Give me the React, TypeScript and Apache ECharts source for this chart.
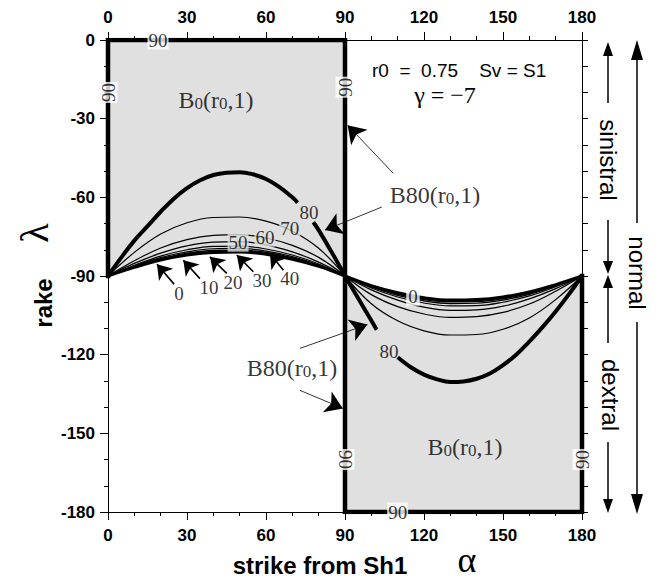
import React, { useEffect, useRef } from "react";
import * as echarts from "echarts";

// ---- data ----
const xTicks = [0, 30, 60, 90, 120, 150, 180];
const yTicks = [0, -30, -60, -90, -120, -150, -180];

const alphaUp = [0, 10, 20, 30, 40, 50, 60, 70, 80, 90];
const rakeUp0 = [-90, -86.7, -83.9, -82, -81, -80.8, -81.7, -83.6, -86.3, -90];
const rakeUp10 = [-90, -86.5, -83.7, -81.6, -80.6, -80.4, -81.4, -83.3, -86.2, -90];
const rakeUp20 = [-90, -86.4, -83.4, -81.3, -80.2, -80.1, -81, -83, -86, -90];
const rakeUp30 = [-90, -86.2, -83, -80.8, -79.6, -79.5, -80.5, -82.6, -85.8, -90];
const rakeUp40 = [-90, -85.9, -82.4, -80, -78.7, -78.6, -79.7, -82, -85.4, -90];
const rakeUp50 = [-90, -85.2, -81.3, -78.5, -77.1, -76.9, -78.1, -80.8, -84.7, -90];
const rakeUp60 = [-90, -84.2, -79.3, -76.1, -74.5, -74.2, -75.5, -78.3, -82.9, -90];
const rakeUp70 = [-90, -81, -74, -69.7, -67.7, -67.5, -69.1, -72.9, -79.4, -90];
const alphaUp80 = [0, 5, 10, 15, 20, 25, 30, 35, 40, 45, 50, 55, 60, 65, 70, 72, 75, 78, 80, 85, 90];
const rakeUp80 = [-90, -83, -76.5, -71, -65.5, -60.5, -56.5, -53.5, -51.5, -50.6, -50.4, -51.2, -53, -56, -60, -62, null, -69.5, -72.5, -81, -90];

const alphaLow = [90, 100, 110, 120, 130, 140, 150, 160, 170, 180];
const rakeLow0 = [-90, -93.7, -96.4, -98.3, -99.2, -99, -98, -96.1, -93.3, -90];
const rakeLow10 = [-90, -93.8, -96.7, -98.6, -99.6, -99.4, -98.4, -96.3, -93.5, -90];
const rakeLow20 = [-90, -94, -97, -99, -99.9, -99.8, -98.7, -96.6, -93.6, -90];
const rakeLow30 = [-90, -94.2, -97.4, -99.5, -100.5, -100.4, -99.2, -97, -93.8, -90];
const rakeLow40 = [-90, -94.6, -98, -100.3, -101.4, -101.3, -100, -97.6, -94.1, -90];
const rakeLow50 = [-90, -95.3, -99.2, -101.9, -103.1, -102.9, -101.5, -98.7, -94.8, -90];
const rakeLow60 = [-90, -97.1, -101.7, -104.5, -105.8, -105.5, -103.9, -100.7, -95.8, -90];
const rakeLow70 = [-90, -100.6, -107.1, -110.9, -112.5, -112.3, -110.3, -106, -99, -90];
const alphaLow80 = [90, 95, 100, 102, 106, 110, 115, 120, 125, 130, 135, 140, 145, 150, 155, 160, 165, 170, 175, 180];
const rakeLow80 = [-90, -98.5, -107, -110.5, null, -121, -124.8, -127.6, -129.4, -130.4, -130.2, -129.2, -127.2, -124, -120, -115, -109.5, -103.5, -97, -90];

// boundary of the B0 regions
const boundAlpha = [0, 0, 90, 90, 180, 180];
const boundRake = [-90, 0, 0, -180, -180, -90];

// labels on curves
const upLabelText = ["0", "10", "20", "30", "40", "50", "60", "70", "80"];
const upLabelAlpha = [27, 38.4, 47.5, 58.5, 69, 49.4, 59.6, 69, 76.3];
const upLabelRake = [-96.6, -94.3, -92.4, -91.6, -90.8, -77.1, -75.2, -71.8, -65.6];
const lowLabelText = ["0", "80"];
const lowLabelAlpha = [115.8, 106.7];
const lowLabelRake = [-97.7, -118.9];

// "90" marks on the boundary
const b90Alpha = [19, 0, 90, 90, 180, 110];
const b90Rake = [0, -20, -18, -160, -160, -180];
const b90Rot = [0, 90, 90, -90, 90, 0];

// arrows from the small labels to the curves
const arrowFrom = [[25.1, -93.1], [34.9, -91], [45.1, -89], [55.2, -88.4], [66.6, -87.8]];
const arrowTo = [[18.6, -85.5], [28.6, -84], [38.7, -82.7], [48.9, -82], [61.5, -81.4]];
// arrows from the B80 labels
const bArrowFrom = [[108.3, -50.8], [104, -63.7], [72.9, -117.6], [72.9, -133.6]];
const bArrowTo = [[91, -32.5], [82.4, -72.5], [98.5, -108.5], [89.2, -140.5]];

const pts = (xs: number[], ys: (number | null)[]) =>
  xs.map((x, i) => [x, ys[i] == null ? "-" : ys[i]]);

const BLACK = "#000";
const SHADE = "#e0e0e0";
const SANS = "Liberation Sans";
const SERIF = "Liberation Serif";

export default function App() {
  const ref = useRef<HTMLDivElement>(null);
  useEffect(() => {
    if (!ref.current) return;
    const chart = echarts.init(ref.current, null, { renderer: "svg" });

    const axisCommon = {
      splitLine: { show: false },
      axisLine: { show: true, onZero: false, lineStyle: { color: BLACK, width: 1 } },
      axisTick: { show: true, length: 8, lineStyle: { color: BLACK, width: 1 } },
      minorTick: { show: true, splitNumber: 3, length: 4, lineStyle: { color: BLACK, width: 1 } },
    };
    const labelCommon = { color: BLACK, fontFamily: SANS, fontWeight: "bold", fontSize: 17 };

    const thinCurve = (data: any[]) => ({
      type: "line",
      data,
      smooth: 0.4,
      symbol: "none",
      z: 3,
      lineStyle: { color: BLACK, width: 1.2 },
      xAxisIndex: 0,
      yAxisIndex: 0,
    });

    const richB = {
      b: { fontFamily: SERIF, fontSize: 24, color: BLACK },
      s: { fontFamily: SERIF, fontSize: 17, color: BLACK, verticalAlign: "bottom" },
    };

    const center = { align: "center", verticalAlign: "middle", textAlign: "center", textVerticalAlign: "middle" };

    const option: any = {
      animation: false,
      grid: { left: 108, top: 40, width: 474, height: 472, containLabel: false },
      xAxis: [
        {
          type: "value", min: 0, max: 180, interval: 30, position: "bottom",
          ...axisCommon,
          axisLabel: { ...labelCommon, margin: 15, formatter: (v: number) => (xTicks.includes(v) ? String(v) : "") },
        },
        {
          type: "value", min: 0, max: 180, interval: 30, position: "top",
          ...axisCommon,
          axisLabel: { ...labelCommon, margin: 14, formatter: (v: number) => (xTicks.includes(v) ? String(v) : "") },
        },
      ],
      yAxis: [
        {
          type: "value", min: -180, max: 0, interval: 30, position: "left",
          ...axisCommon,
          axisLabel: { ...labelCommon, margin: 13, formatter: (v: number) => (yTicks.includes(v) ? String(v) : "") },
        },
        {
          type: "value", min: -180, max: 0, interval: 30, position: "right",
          ...axisCommon,
          axisTick: { show: true, length: 6, lineStyle: { color: BLACK } },
          minorTick: { show: true, splitNumber: 3, length: 6, lineStyle: { color: BLACK } },
          axisLabel: { show: false },
        },
      ],
      series: [
        {
          type: "line", data: pts(alphaUp, rakeUp0), smooth: 0.4, symbol: "none", z: 1,
          lineStyle: { width: 0 }, areaStyle: { color: SHADE, opacity: 1, origin: "end" },
        },
        {
          type: "line", data: pts(alphaLow, rakeLow0), smooth: 0.4, symbol: "none", z: 1,
          lineStyle: { width: 0 }, areaStyle: { color: SHADE, opacity: 1, origin: "start" },
        },
        thinCurve(pts(alphaUp, rakeUp10)),
        thinCurve(pts(alphaUp, rakeUp20)),
        thinCurve(pts(alphaUp, rakeUp30)),
        thinCurve(pts(alphaUp, rakeUp40)),
        thinCurve(pts(alphaUp, rakeUp50)),
        thinCurve(pts(alphaUp, rakeUp60)),
        thinCurve(pts(alphaUp, rakeUp70)),
        thinCurve(pts(alphaLow, rakeLow10)),
        thinCurve(pts(alphaLow, rakeLow20)),
        thinCurve(pts(alphaLow, rakeLow30)),
        thinCurve(pts(alphaLow, rakeLow40)),
        thinCurve(pts(alphaLow, rakeLow50)),
        thinCurve(pts(alphaLow, rakeLow60)),
        thinCurve(pts(alphaLow, rakeLow70)),
        { ...thinCurve(pts(alphaUp, rakeUp0)), lineStyle: { color: BLACK, width: 3 } },
        { ...thinCurve(pts(alphaLow, rakeLow0)), lineStyle: { color: BLACK, width: 3 } },
        { ...thinCurve(pts(alphaUp80, rakeUp80)), connectNulls: false, lineStyle: { color: BLACK, width: 4 } },
        { ...thinCurve(pts(alphaLow80, rakeLow80)), connectNulls: false, lineStyle: { color: BLACK, width: 4 } },
        {
          type: "line", data: pts(boundAlpha, boundRake), symbol: "none", z: 4,
          lineStyle: { color: BLACK, width: 4.5, join: "miter", cap: "square" },
        },
        // "90" marks
        {
          type: "scatter", symbolSize: 1, z: 6, itemStyle: { color: "rgba(0,0,0,0)" },
          label: {
            show: true, position: "inside", formatter: "90", fontFamily: SERIF, fontSize: 19,
            color: BLACK, backgroundColor: "#fff", padding: [0, 1],
          },
          data: b90Alpha.map((a, i) => ({ value: [a, b90Rake[i]], label: { rotate: b90Rot[i] } })),
        },
        // curve labels (upper)
        {
          type: "scatter", symbolSize: 1, z: 6, itemStyle: { color: "rgba(0,0,0,0)" },
          label: { show: true, position: "inside", fontFamily: SERIF, fontSize: 19, color: BLACK },
          data: upLabelText.map((t, i) => ({
            value: [upLabelAlpha[i], upLabelRake[i]],
            label: {
              formatter: t,
              backgroundColor: i >= 5 && i < 8 ? SHADE : "transparent",
              padding: [0, 1],
            },
          })),
        },
        // curve labels (lower)
        {
          type: "scatter", symbolSize: 1, z: 6, itemStyle: { color: "rgba(0,0,0,0)" },
          label: { show: true, position: "inside", fontFamily: SERIF, fontSize: 19, color: BLACK },
          data: lowLabelText.map((t, i) => ({
            value: [lowLabelAlpha[i], lowLabelRake[i]],
            label: { formatter: t, backgroundColor: i === 0 ? "#fff" : "transparent", padding: [0, 2] },
          })),
        },
        // region labels
        {
          type: "scatter", symbolSize: 1, z: 6, itemStyle: { color: "rgba(0,0,0,0)" },
          label: { show: true, position: "inside", rich: richB },
          data: [
            { value: [41, -23], label: { formatter: "{b|B}{s|0}{b|(r}{s|0}{b|,1)}" } },
            { value: [135.6, -155.3], label: { formatter: "{b|B}{s|0}{b|(r}{s|0}{b|,1)}" } },
            { value: [124.2, -59.2], label: { formatter: "{b|B80(r}{s|0}{b|,1)}" } },
            { value: [69.9, -125.2], label: { formatter: "{b|B80(r}{s|0}{b|,1)}" } },
          ],
        },
        // arrows to curves
        {
          type: "lines", coordinateSystem: "cartesian2d", z: 5,
          symbol: ["none", "arrow"], symbolSize: 14,
          lineStyle: { color: BLACK, width: 1.6, opacity: 1 },
          itemStyle: { color: BLACK },
          data: arrowFrom.map((f, i) => ({ coords: [f, arrowTo[i]] })),
        },
        {
          type: "lines", coordinateSystem: "cartesian2d", z: 5,
          symbol: ["none", "arrow"], symbolSize: 17,
          lineStyle: { color: BLACK, width: 0.8, opacity: 1 },
          itemStyle: { color: BLACK },
          data: bArrowFrom.map((f, i) => ({ coords: [f, bArrowTo[i]] })),
        },
      ],
      graphic: [
        { type: "text", x: 372, y: 70, style: { text: "r0  =  0.75    Sv = S1", font: `19px '${SANS}'`, fill: BLACK, align: "left", verticalAlign: "middle", textAlign: "left", textVerticalAlign: "middle" } },
        { type: "text", x: 445, y: 95, style: { text: "γ = −7", font: `24px '${SERIF}'`, fill: BLACK, ...center } },
        { type: "text", x: 43, y: 303, rotation: Math.PI / 2, style: { text: "rake", font: `bold 24px '${SANS}'`, fill: BLACK, ...center } },
        { type: "text", x: 34, y: 233, rotation: Math.PI / 2, style: { text: "λ", font: `40px '${SERIF}'`, fill: BLACK, ...center } },
        { type: "text", x: 320, y: 565, style: { text: "strike from Sh1", font: `bold 24px '${SANS}'`, fill: BLACK, ...center } },
        { type: "text", x: 467, y: 560, style: { text: "α", font: `36px '${SERIF}'`, fill: BLACK, ...center } },
        // right side annotations
        { type: "text", x: 608, y: 160, rotation: -Math.PI / 2, style: { text: "sinistral", font: `24px '${SANS}'`, fill: BLACK, ...center } },
        { type: "text", x: 637, y: 273, rotation: -Math.PI / 2, style: { text: "normal", font: `24px '${SANS}'`, fill: BLACK, ...center } },
        { type: "text", x: 610, y: 395, rotation: -Math.PI / 2, style: { text: "dextral", font: `24px '${SANS}'`, fill: BLACK, ...center } },
        { type: "line", shape: { x1: 608, y1: 103, x2: 608, y2: 52 }, style: { stroke: BLACK, lineWidth: 1.5 } },
        { type: "polygon", shape: { points: [[608, 42], [603, 56], [613, 56]] }, style: { fill: BLACK } },
        { type: "line", shape: { x1: 608, y1: 220, x2: 608, y2: 264 }, style: { stroke: BLACK, lineWidth: 1.5 } },
        { type: "polygon", shape: { points: [[608, 274], [603, 261], [613, 261]] }, style: { fill: BLACK } },
        { type: "line", shape: { x1: 608, y1: 343, x2: 608, y2: 285 }, style: { stroke: BLACK, lineWidth: 1.5 } },
        { type: "polygon", shape: { points: [[608, 275], [603, 288], [613, 288]] }, style: { fill: BLACK } },
        { type: "line", shape: { x1: 608, y1: 442, x2: 608, y2: 503 }, style: { stroke: BLACK, lineWidth: 1.5 } },
        { type: "polygon", shape: { points: [[608, 513], [603, 499], [613, 499]] }, style: { fill: BLACK } },
        { type: "line", shape: { x1: 637, y1: 223, x2: 637, y2: 54 }, style: { stroke: BLACK, lineWidth: 1.5 } },
        { type: "polygon", shape: { points: [[637, 40], [631, 60], [643, 60]] }, style: { fill: BLACK } },
        { type: "line", shape: { x1: 637, y1: 322, x2: 637, y2: 500 }, style: { stroke: BLACK, lineWidth: 1.5 } },
        { type: "polygon", shape: { points: [[637, 514], [631, 494], [643, 494]] }, style: { fill: BLACK } },
      ],
    };

    chart.setOption(option);
    return () => chart.dispose();
  }, []);

  return (
    <div
      ref={ref}
      style={{ position: "absolute", left: 0, top: 0, width: 669, height: 580, background: "#fff" }}
    />
  );
}
